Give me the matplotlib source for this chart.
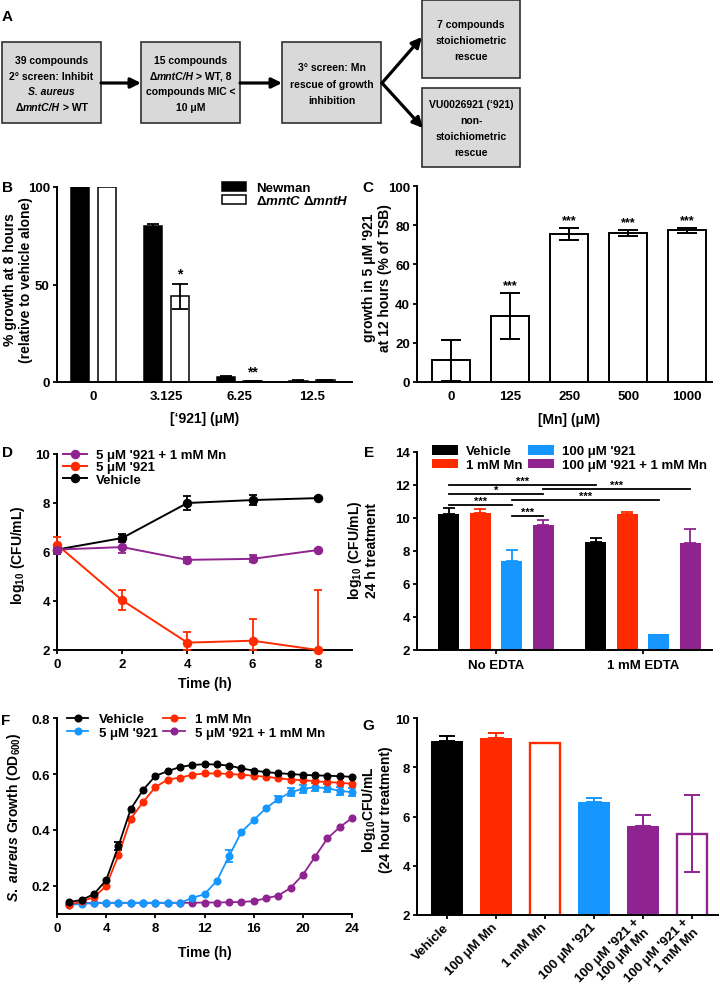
import matplotlib
matplotlib.use('Agg')
import matplotlib.pyplot as plt
from matplotlib import font_manager
from matplotlib.patches import Rectangle, Patch
from matplotlib.lines import Line2D
import numpy as np

# ---------------- data ----------------
# Panel A: flow chart text (segments: (text, italic))
a_box_lines = [
    [[("39 compounds", 0)], [("2° screen: Inhibit", 0)], [("S. aureus", 1)],
     [("Δ", 0), ("mntC/H", 1), (" > WT", 0)]],
    [[("15 compounds", 0)], [("Δ", 0), ("mntC/H", 1), (" > WT, 8", 0)],
     [("compounds MIC <", 0)], [("10 μM", 0)]],
    [[("3° screen: Mn", 0)], [("rescue of growth", 0)], [("inhibition", 0)]],
    [[("7 compounds", 0)], [("stoichiometric", 0)], [("rescue", 0)]],
    [[("VU0026921 (‘921)", 0)], [("non-", 0)], [("stoichiometric", 0)], [("rescue", 0)]],
]

# Panel B
b_conc = ['0', '3.125', '6.25', '12.5']
b_newman = [100, 80, 2.6, 0.6]
b_newman_err = [0, 1.0, 0.3, 0.2]
b_mutant = [100, 44, 0.4, 0.9]
b_mutant_err = [0, 6.5, 0.2, 0.2]
b_mutant_sig = ['', '*', '**', '']

# Panel C
c_mn = ['0', '125', '250', '500', '1000']
c_growth = [11, 33.5, 75.5, 75.8, 77.3]
c_err = [10.5, 11.7, 3.0, 1.5, 1.3]
c_sig = ['', '***', '***', '***', '***']

# Panel D
d_time = [0, 2, 4, 6, 8]
d_vehicle = [6.1, 6.57, 8.0, 8.12, 8.2]
d_vehicle_err = [0.05, 0.17, 0.3, 0.2, 0.05]
d_921 = [6.3, 4.03, 2.3, 2.38, 2.0]
d_921_err = [0.33, 0.4, 0.42, 0.87, 2.45]
d_921mn = [6.1, 6.2, 5.68, 5.72, 6.08]
d_921mn_err = [0.2, 0.25, 0.12, 0.14, 0.05]

# Panel E
e_groups = ['No EDTA', '1 mM EDTA']
e_labels = ['Vehicle', '1 mM Mn', "100 μM '921", "100 μM '921 + 1 mM Mn"]
e_vehicle = [10.25, 8.55]
e_vehicle_err = [0.35, 0.25]
e_mn = [10.28, 10.22]
e_mn_err = [0.27, 0.13]
e_921 = [7.4, 3.0]
e_921_err = [0.65, 0.0]
e_921mn = [9.55, 8.5]
e_921mn_err = [0.35, 0.85]
# significance: (group, bar) -> (group, bar), height, label
e_sig = [((0, 0), (1, 0), 12.0, '***'),
         ((0, 0), (0, 3), 11.45, '*'),
         ((0, 0), (0, 2), 10.8, '***'),
         ((0, 2), (0, 3), 10.1, '***'),
         ((0, 3), (1, 3), 11.75, '***'),
         ((0, 2), (1, 2), 11.1, '***')]

# Panel F
f_time = list(range(1, 25))
f_vehicle = [0.143, 0.150, 0.171, 0.221, 0.343, 0.475, 0.543, 0.593, 0.610, 0.625, 0.632, 0.635,
             0.634, 0.630, 0.620, 0.612, 0.607, 0.603, 0.600, 0.597, 0.595, 0.594, 0.592, 0.590]
f_vehicle_err = [0, 0, 0, 0, 0.015, 0, 0, 0, 0, 0, 0, 0, 0, 0, 0, 0, 0, 0, 0, 0, 0, 0, 0, 0]
f_mn = [0.133, 0.145, 0.160, 0.200, 0.310, 0.440, 0.500, 0.553, 0.580, 0.587, 0.597, 0.602,
        0.602, 0.600, 0.597, 0.594, 0.590, 0.585, 0.580, 0.578, 0.574, 0.571, 0.569, 0.565]
f_921 = [0.133, 0.136, 0.139, 0.140, 0.140, 0.140, 0.140, 0.140, 0.140, 0.140, 0.157, 0.171,
         0.218, 0.307, 0.393, 0.435, 0.478, 0.510, 0.535, 0.547, 0.553, 0.549, 0.540, 0.535]
f_921_err = [0, 0, 0, 0, 0, 0, 0, 0, 0, 0, 0, 0, 0, 0.02, 0, 0, 0, 0.01, 0.015, 0.015, 0.015,
             0.015, 0.015, 0.015]
f_921mn = [0.135, 0.138, 0.140, 0.140, 0.140, 0.140, 0.140, 0.140, 0.140, 0.140, 0.140, 0.141,
           0.141, 0.142, 0.143, 0.146, 0.156, 0.166, 0.193, 0.240, 0.305, 0.370, 0.410, 0.443]

# Panel G
g_labels = ['Vehicle', '100 μM Mn', '1 mM Mn', "100 μM '921",
            "100 μM '921 +\n100 μM Mn", "100 μM '921 +\n1 mM Mn"]
g_values = [9.08, 9.19, 8.98, 6.6, 5.63, 5.3]
g_err_low = [0, 0, 0, 0, 0, 1.55]
g_err_high = [0.2, 0.19, 0, 0.17, 0.43, 1.58]

# ---------------- style ----------------
RED = '#ff2a00'
BLUE = '#1597ff'
PURPLE = '#8f2490'

plt.rcParams['font.family'] = ['Liberation Sans', 'DejaVu Sans']
plt.rcParams['font.weight'] = 'bold'
plt.rcParams['axes.labelweight'] = 'bold'
plt.rcParams['mathtext.fontset'] = 'custom'
plt.rcParams['mathtext.rm'] = 'Liberation Sans:bold'
plt.rcParams['mathtext.it'] = 'Liberation Sans:italic:bold'
plt.rcParams['mathtext.bf'] = 'Liberation Sans:bold'
plt.rcParams['mathtext.default'] = 'rm'
plt.rcParams['axes.linewidth'] = 1.4
plt.rcParams['xtick.major.width'] = 1.3
plt.rcParams['ytick.major.width'] = 1.3
plt.rcParams['xtick.major.size'] = 3.2
plt.rcParams['ytick.major.size'] = 3.2
plt.rcParams['xtick.labelsize'] = 9.5
plt.rcParams['ytick.labelsize'] = 9.5
plt.rcParams['axes.labelsize'] = 10
plt.rcParams['legend.fontsize'] = 9.5
plt.rcParams['xtick.major.pad'] = 2.5
plt.rcParams['ytick.major.pad'] = 2

W, H = 720, 995
fig = plt.figure(figsize=(W / 100, H / 100), dpi=100)


def add_ax(l, t, r, b):
    ax = fig.add_axes([l / W, 1 - b / H, (r - l) / W, (b - t) / H])
    ax.spines['top'].set_visible(False)
    ax.spines['right'].set_visible(False)
    return ax


def errbars(ax, xs, ys, lo, hi, color, capsize, lw=1.3, zorder=3):
    sel = [i for i in range(len(xs)) if (lo[i] > 0 or hi[i] > 0)]
    if not sel:
        return
    ax.errorbar([xs[i] for i in sel], [ys[i] for i in sel],
                yerr=[[lo[i] for i in sel], [hi[i] for i in sel]],
                fmt='none', ecolor=color, elinewidth=lw, capsize=capsize,
                capthick=lw, zorder=zorder, clip_on=False)


# ---------------- Panel A ----------------
axA = fig.add_axes([0, 0, 1, 1])
axA.set_xlim(0, W)
axA.set_ylim(H, 0)
axA.axis('off')
axA.patch.set_alpha(0)

names = {f.name for f in font_manager.fontManager.ttflist}
if 'Liberation Sans Narrow' in names:
    A_FAM, A_SIZE = 'Liberation Sans Narrow', 8.6
else:
    A_FAM, A_SIZE = 'Liberation Sans', 7.5

renderer = fig.canvas.get_renderer()


def twidth(s, italic):
    t = axA.text(0, 0, s, fontsize=A_SIZE, family=A_FAM, weight='bold',
                 style='italic' if italic else 'normal')
    w = t.get_window_extent(renderer).width
    t.remove()
    return w


SP = twidth('a a', 0) - twidth('aa', 0)


def rich_line(xc, yc, segs):
    parts = []
    total = 0
    for s, it in segs:
        lead = len(s) - len(s.lstrip(' '))
        trail = len(s) - len(s.rstrip(' '))
        core = s.strip(' ')
        w = twidth(core, it) + (lead + trail) * SP
        parts.append((core, it, lead, w))
        total += w
    x = xc - total / 2
    for core, it, lead, w in parts:
        axA.text(x + lead * SP, yc, core, fontsize=A_SIZE, family=A_FAM, weight='bold',
                 style='italic' if it else 'normal', ha='left', va='center')
        x += w


a_geom = [(2, 43, 101, 124, 15.5), (141, 43, 240, 124, 15.5), (282, 43, 381, 124, 16.5),
          (422, 1, 520, 79, 16), (422, 89, 520, 168, 16)]
for (l, t, r, b, ls), lines in zip(a_geom, a_box_lines):
    axA.add_patch(Rectangle((l, t), r - l, b - t, facecolor='#d9d9d9',
                            edgecolor='#303030', lw=1.2))
    n = len(lines)
    yc = (t + b) / 2 + 1
    for i, segs in enumerate(lines):
        rich_line((l + r) / 2, yc + (i - (n - 1) / 2) * ls, segs)

arrow_kw = dict(arrowstyle='-|>', lw=2.3, color='black', mutation_scale=15,
                shrinkA=0, shrinkB=0)
axA.annotate('', xy=(141, 84), xytext=(101, 84), arrowprops=arrow_kw)
axA.annotate('', xy=(282, 84), xytext=(240, 84), arrowprops=arrow_kw)
axA.annotate('', xy=(422, 38), xytext=(382, 84), arrowprops=arrow_kw)
axA.annotate('', xy=(423, 129), xytext=(382, 84), arrowprops=arrow_kw)

# panel letters
for letter, (px, py) in zip('ABCDEFG', [(2, 17), (2, 188), (362, 188), (2, 453),
                                         (364, 453), (1, 721), (362, 726)]):
    fig.text(px / W, 1 - py / H, letter, fontsize=11, weight='bold', ha='left', va='center')

# ---------------- Panel B ----------------
axB = add_ax(57, 188, 352, 383)
xb = np.arange(len(b_conc))
off, bw = 0.185, 0.25
axB.bar(xb - off, b_newman, bw, color='black', edgecolor='black', lw=1.1, zorder=2)
axB.bar(xb + off, b_mutant, bw, color='white', edgecolor='black', lw=1.1, zorder=2)
errbars(axB, list(xb - off), b_newman, b_newman_err, b_newman_err, 'black', 4.5)
errbars(axB, list(xb + off), b_mutant, b_mutant_err, b_mutant_err, 'black', 6)
for i, s in enumerate(b_mutant_sig):
    if s:
        axB.annotate(s, (xb[i] + off, b_mutant[i] + b_mutant_err[i]), xytext=(0, 2),
                     textcoords='offset points', ha='center', va='bottom', fontsize=10)
axB.set_xlim(-0.5, 3.55)
axB.set_ylim(0, 100)
axB.set_yticks([0, 50, 100])
axB.set_xticks(xb)
axB.set_xticklabels(b_conc)
axB.tick_params(axis='x', length=0, pad=6)
axB.set_xlabel("[‘921] (μM)")
axB.xaxis.set_label_coords(0.5, -0.15)
axB.set_ylabel('% growth at 8 hours\n(relative to vehicle alone)', linespacing=1.15)
axB.yaxis.set_label_coords(-0.081, 0.53)
axB.legend([Patch(facecolor='black', edgecolor='black', lw=1.1),
            Patch(facecolor='white', edgecolor='black', lw=1.1)],
           ['Newman', 'Δ$\\mathit{mntC}$ Δ$\\mathit{mntH}$'],
           loc='upper left', bbox_to_anchor=((222 - 57) / 295, (383 - 183) / 195),
           frameon=False, borderpad=0, borderaxespad=0, handlelength=1.85,
           handleheight=0.6, handletextpad=0.75, labelspacing=0.0)

# ---------------- Panel C ----------------
axC = add_ax(417, 187, 712, 383)
xc = np.arange(len(c_mn))
axC.bar(xc, c_growth, 0.64, color='white', edgecolor='black', lw=1.4, zorder=2)
errbars(axC, list(xc), c_growth, c_err, c_err, 'black', 7.5, lw=1.4)
for i, s in enumerate(c_sig):
    if s:
        axC.annotate(s, (xc[i], c_growth[i] + c_err[i]), xytext=(0, 1.5),
                     textcoords='offset points', ha='center', va='bottom', fontsize=9)
axC.set_xlim(-0.58, 4.42)
axC.set_ylim(0, 100)
axC.set_yticks(range(0, 101, 20))
axC.set_xticks(xc)
axC.set_xticklabels(c_mn)
axC.tick_params(axis='x', length=0, pad=6)
axC.set_xlabel('[Mn] (μM)')
axC.xaxis.set_label_coords(0.515, -0.153)
axC.set_ylabel("growth in 5 μM '921\nat 12 hours (% of TSB)", linespacing=1.15)
axC.yaxis.set_label_coords(-0.085, 0.535)

# ---------------- Panel D ----------------
axD = add_ax(57, 455, 352, 651)
D_LO = 2
for ys, es, c in [(d_vehicle, d_vehicle_err, 'black'), (d_921, d_921_err, RED),
                  (d_921mn, d_921mn_err, PURPLE)]:
    lo = [min(e, y - D_LO) for y, e in zip(ys, es)]
    errbars(axD, d_time, ys, lo, es, c, 3, lw=1.3)
    axD.plot(d_time, ys, '-o', color=c, ms=5.8, lw=1.4, clip_on=False, zorder=4)
axD.set_xlim(0, 9.05)
axD.set_ylim(2, 10)
axD.set_xticks([0, 2, 4, 6, 8])
axD.set_yticks([2, 4, 6, 8, 10])
axD.set_xlabel('Time (h)')
axD.xaxis.set_label_coords(0.5, -0.133)
axD.set_ylabel('log$_{10}$ (CFU/mL)')
axD.yaxis.set_label_coords(-0.10, 0.49)
axD.legend([Line2D([], [], color=PURPLE, marker='o', ms=5.8, lw=1.4),
            Line2D([], [], color=RED, marker='o', ms=5.8, lw=1.4),
            Line2D([], [], color='black', marker='o', ms=5.8, lw=1.4)],
           ["5 μM '921 + 1 mM Mn", "5 μM '921", 'Vehicle'],
           loc='upper left', bbox_to_anchor=((63 - 57) / 295, (651 - 450) / 196),
           frameon=False, borderpad=0, borderaxespad=0, handlelength=1.8,
           handletextpad=0.7, labelspacing=0.0)

# ---------------- Panel E ----------------
axE = add_ax(417, 453, 712, 651)
gx = np.arange(len(e_groups))
step, ebw = 0.214, 0.143
e_offsets = [-1.5, -0.5, 0.5, 1.5]
e_colors = ['black', RED, BLUE, PURPLE]
e_vals = [e_vehicle, e_mn, e_921, e_921mn]
e_errs = [e_vehicle_err, e_mn_err, e_921_err, e_921mn_err]
handles = []
for k in range(4):
    xs = gx + e_offsets[k] * step
    axE.bar(xs, e_vals[k], ebw, color=e_colors[k], zorder=2)
    errbars(axE, list(xs), e_vals[k], [0] * len(xs), e_errs[k], e_colors[k], 4.3)
    handles.append(Patch(facecolor=e_colors[k]))
for (g1, b1), (g2, b2), yy, lab in e_sig:
    x1 = g1 + e_offsets[b1] * step
    x2 = g2 + e_offsets[b2] * step
    axE.plot([x1, x2], [yy, yy], color='black', lw=1.3, zorder=4)
    axE.annotate(lab, ((x1 + x2) / 2, yy), xytext=(0, -0.5), textcoords='offset points',
                 ha='center', va='bottom', fontsize=8)
axE.set_xlim(-0.537, 1.47)
axE.set_ylim(2, 14)
axE.set_yticks(range(2, 15, 2))
axE.set_xticks(gx)
axE.set_xticklabels(e_groups)
axE.tick_params(axis='x', pad=3)
axE.set_ylabel('log$_{10}$ (CFU/mL)\n24 h treatment', linespacing=1.1)
axE.yaxis.set_label_coords(-0.13, 0.51)
axE.legend([handles[0], handles[1], handles[2], handles[3]], e_labels, ncol=2,
           loc='upper left', bbox_to_anchor=((432 - 417) / 295, (651 - 446) / 198),
           frameon=False, borderpad=0, borderaxespad=0, handlelength=1.95,
           handleheight=0.75, handletextpad=0.6, labelspacing=0.1, columnspacing=0.45)

# ---------------- Panel F ----------------
axF = add_ax(57, 719, 352, 915)
zero = [0] * len(f_time)
for ys, es, c in [(f_921mn, zero, PURPLE), (f_921, f_921_err, BLUE),
                  (f_mn, zero, RED), (f_vehicle, f_vehicle_err, 'black')]:
    errbars(axF, f_time, ys, es, es, c, 3, lw=1.3)
    axF.plot(f_time, ys, '-o', color=c, ms=4.8, lw=1.3, clip_on=False, zorder=4)
axF.set_xlim(0, 24)
axF.set_ylim(0.1, 0.8)
axF.set_xticks(range(0, 25, 4))
axF.set_yticks([0.2, 0.4, 0.6, 0.8])
axF.set_xlabel('Time (h)')
axF.xaxis.set_label_coords(0.5, -0.158)
axF.set_ylabel('$\\mathit{S.\\ aureus}$ Growth (OD$_{600}$)')
axF.yaxis.set_label_coords(-0.115, 0.50)
fh = [Line2D([], [], color=c, marker='o', ms=4.8, lw=1.3) for c in ['black', BLUE, RED, PURPLE]]
axF.legend(fh, ['Vehicle', "5 μM '921", '1 mM Mn', "5 μM '921 + 1 mM Mn"], ncol=2,
           loc='upper left', bbox_to_anchor=((67 - 57) / 295, (915 - 714) / 196),
           frameon=False, borderpad=0, borderaxespad=0, handlelength=1.6,
           handletextpad=0.8, labelspacing=0.1, columnspacing=0.45)

# ---------------- Panel G ----------------
axG = add_ax(417, 719, 718, 916)
xg = np.arange(len(g_labels))
g_colors = ['black', RED, RED, BLUE, PURPLE, PURPLE]
g_filled = [True, True, False, True, True, False]
for i in range(len(xg)):
    if g_filled[i]:
        axG.bar(xg[i], g_values[i], 0.66, color=g_colors[i], zorder=2)
    else:
        axG.bar(xg[i], g_values[i], 0.62, facecolor='white', edgecolor=g_colors[i],
                lw=1.7, zorder=2)
    errbars(axG, [xg[i]], [g_values[i]], [g_err_low[i]], [g_err_high[i]], g_colors[i], 6,
            lw=1.4)
axG.set_xlim(-0.61, 5.53)
axG.set_ylim(2, 10)
axG.set_yticks([2, 4, 6, 8, 10])
axG.set_xticks(xg)
axG.set_xticklabels(g_labels, rotation=45, ha='right', va='center',
                    rotation_mode='anchor', multialignment='right')
axG.tick_params(axis='x', pad=4)
axG.set_ylabel('log$_{10}$CFU/mL\n(24 hour treatment)', linespacing=1.1)
axG.yaxis.set_label_coords(-0.08, 0.54)

fig.savefig('out.png', dpi=100)
